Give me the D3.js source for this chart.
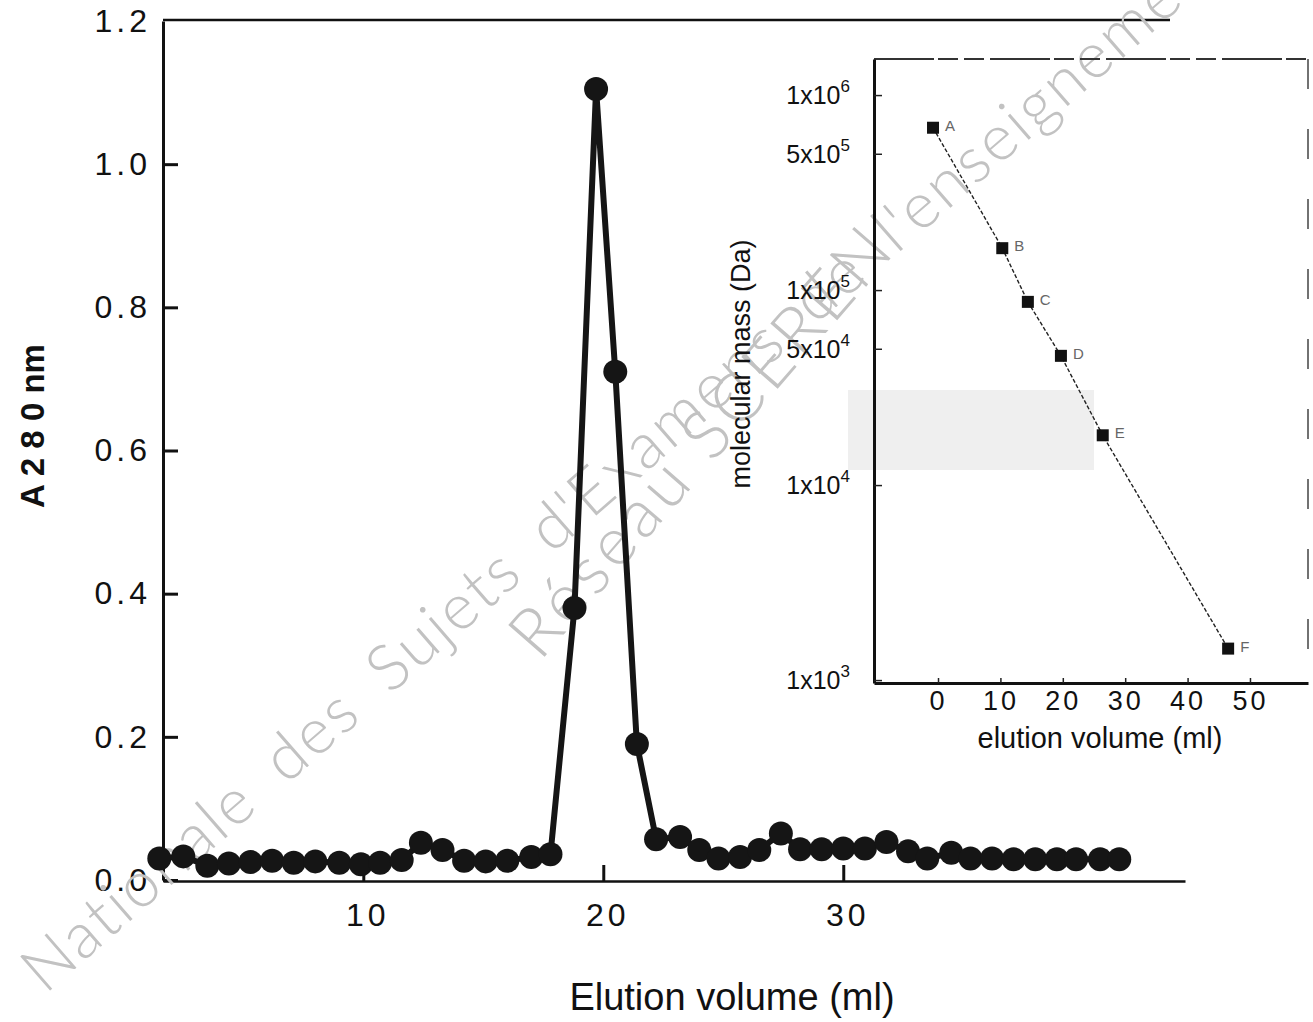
<!DOCTYPE html>
<html>
<head>
<meta charset="utf-8">
<script src="https://cdn.jsdelivr.net/npm/d3@7"></script>
<style>
  body { margin: 0; background: #fff; }
  svg { display: block; font-family: "Liberation Sans", Arial, sans-serif; }
</style>
</head>
<body>
<svg></svg>
<script>
let width = 1313, height = 1022;

// main elution profile: elution volume (ml) and A280
let elutionVol = [1.5, 2.5, 3.5, 4.4, 5.3, 6.2, 7.1, 8.0, 9.0, 9.9, 10.7, 11.6,
    12.4, 13.3, 14.2, 15.1, 16.0, 17.0, 17.8, 18.8, 19.7, 20.5, 21.4, 22.2,
    23.2, 24.0, 24.8, 25.7, 26.5, 27.4, 28.2, 29.1, 30.0, 30.9, 31.8, 32.7,
    33.5, 34.5, 35.3, 36.2, 37.1, 38.0, 38.9, 39.7, 40.7, 41.5];
let absorbance = [0.030, 0.033, 0.020, 0.023, 0.025, 0.027, 0.024, 0.026, 0.024, 0.022, 0.024, 0.028,
    0.052, 0.042, 0.027, 0.026, 0.027, 0.032, 0.036, 0.380, 1.105, 0.710, 0.190, 0.057,
    0.060, 0.042, 0.030, 0.032, 0.042, 0.065, 0.043, 0.043, 0.044, 0.044, 0.053, 0.040,
    0.030, 0.038, 0.030, 0.030, 0.029, 0.029, 0.029, 0.029, 0.029, 0.029];
let mainYTicks = [0, 0.2, 0.4, 0.6, 0.8, 1.0, 1.2];
let mainXTicks = [10, 20, 30];

// inset: calibration standards
let stdNames = ["A", "B", "C", "D", "E", "F"];
let stdVol = [-0.8, 10.3, 14.4, 19.7, 26.4, 46.5];
let stdMass = [680000, 164000, 87000, 46000, 18000, 1450];
let insetYTicks = [1e3, 1e4, 5e4, 1e5, 5e5, 1e6];
let insetXTicks = [0, 10, 20, 30, 40, 50];

let svg = d3.select("svg")
    .attr("width", width)
    .attr("height", height)
    .attr("viewBox", "0 0 " + width + " " + height);

let gAxes = svg.append("g");
let gInsetBg = svg.append("g");
let gMark = svg.append("g");
let gMain = svg.append("g");
let gInset = svg.append("g");

// ---- main chart scales
let x = d3.scaleLinear().domain([1.654, 44.24]).range([163, 1185]);
let y = d3.scaleLinear().domain([0, 1.2]).range([880, 21]);

// top border
gAxes.append("line")
    .attr("x1", 163).attr("x2", 1170).attr("y1", 20).attr("y2", 20)
    .attr("stroke", "#111").attr("stroke-width", 2.5);

let yAxis = gAxes.append("g")
    .attr("transform", "translate(163,0)")
    .call(d3.axisLeft(y).tickValues(mainYTicks).tickSizeInner(-15).tickSizeOuter(0)
        .tickPadding(12).tickFormat(d3.format(".1f")));

let xAxis = gAxes.append("g")
    .attr("transform", "translate(0,881)")
    .call(d3.axisBottom(x).tickValues(mainXTicks).tickSizeInner(-16).tickSizeOuter(0)
        .tickPadding(22).tickFormat(d3.format("d")));

yAxis.select(".domain").attr("stroke", "#111").attr("stroke-width", 3);
xAxis.select(".domain").attr("stroke", "#111").attr("stroke-width", 2.5);
gAxes.selectAll(".tick line").attr("stroke", "#111").attr("stroke-width", 3);
gAxes.selectAll(".tick text")
    .attr("font-size", 32)
    .attr("letter-spacing", 4)
    .attr("fill", "#111")
    .attr("font-family", "Liberation Sans, Arial, sans-serif");
xAxis.selectAll(".tick text").attr("dx", 4);
yAxis.selectAll(".tick").filter(d => d === 1.2).select("line").remove();

gAxes.append("text")
    .attr("x", 732).attr("y", 1010)
    .attr("text-anchor", "middle")
    .attr("font-size", 38)
    .attr("fill", "#111")
    .text("Elution volume (ml)");

gAxes.append("text")
    .attr("transform", "translate(44,426) rotate(-90)")
    .attr("text-anchor", "middle")
    .attr("font-size", 33)
    .attr("font-weight", "bold")
    .attr("fill", "#111")
    .text("A 2 8 0 nm");

// ---- inset scales
let xi = d3.scaleLinear().domain([-10.26, 59.3]).range([874, 1308]);
let yi = d3.scaleLog().domain([Math.pow(10, 2.985), Math.pow(10, 6.185)]).range([683, 59]);

gInsetBg.append("rect")
    .attr("x", 874).attr("y", 59).attr("width", 436).attr("height", 624)
    .attr("fill", "#fff");
// grey scan band
gInsetBg.append("rect")
    .attr("x", 848).attr("y", 390).attr("width", 246).attr("height", 80)
    .attr("fill", "#efefef");

// ---- watermark
gMark.append("text")
    .attr("transform", "translate(45,995) rotate(-41)")
    .attr("font-family", "Lato, 'Noto Sans', sans-serif")
    .attr("font-weight", 300)
    .attr("font-size", 64)
    .attr("letter-spacing", 2.5)
    .attr("word-spacing", 14)
    .attr("fill", "#c2c2c2")
    .text("Nationale des Sujets d'Examens de l'enseignement professionnel");
gMark.append("text")
    .attr("transform", "translate(540,662) rotate(-49)")
    .attr("font-family", "Lato, 'Noto Sans', sans-serif")
    .attr("font-weight", 300)
    .attr("font-size", 68)
    .attr("letter-spacing", 5)
    .attr("fill", "#c2c2c2")
    .text("Réseau SCEREN");

// ---- main data
let pts = elutionVol.map((v, i) => [v, absorbance[i]]);
gMain.append("path")
    .datum(pts)
    .attr("fill", "none")
    .attr("stroke", "#151515")
    .attr("stroke-width", 6)
    .attr("stroke-linejoin", "round")
    .attr("d", d3.line().x(d => x(d[0])).y(d => y(d[1])));
gMain.selectAll("circle")
    .data(pts)
    .enter()
    .append("circle")
    .attr("cx", d => x(d[0]))
    .attr("cy", d => y(d[1]))
    .attr("r", 12)
    .attr("fill", "#151515");

// ---- inset frame and axes
gInset.append("line")
    .attr("x1", 874).attr("x2", 1308).attr("y1", 59).attr("y2", 59)
    .attr("stroke", "#333").attr("stroke-width", 2)
    .attr("stroke-dasharray", "60,4,20,6,20,6");
gInset.append("line")
    .attr("x1", 1308).attr("x2", 1308).attr("y1", 59).attr("y2", 683)
    .attr("stroke", "#444").attr("stroke-width", 1.5)
    .attr("stroke-dasharray", "30,40");

let yiAxis = gInset.append("g")
    .attr("transform", "translate(874,0)")
    .call(d3.axisLeft(yi).tickValues(insetYTicks).tickSizeInner(-8).tickSizeOuter(0).tickFormat(""));
let xiAxis = gInset.append("g")
    .attr("transform", "translate(0,683)")
    .call(d3.axisBottom(xi).tickValues(insetXTicks).tickSizeInner(-5).tickSizeOuter(0)
        .tickPadding(8).tickFormat(d3.format("d")));
yiAxis.select(".domain").attr("stroke", "#111").attr("stroke-width", 3);
xiAxis.select(".domain").attr("stroke", "#111").attr("stroke-width", 3);
gInset.selectAll(".tick line").attr("stroke", "#222").attr("stroke-width", 1.5);
xiAxis.selectAll(".tick text")
    .attr("font-size", 27)
    .attr("letter-spacing", 3)
    .attr("fill", "#111");

// log tick labels like 5x10^4
let lab = gInset.selectAll(".ylab")
    .data(insetYTicks)
    .enter()
    .append("text")
    .attr("class", "ylab")
    .attr("x", 850)
    .attr("y", d => yi(d) + 9)
    .attr("text-anchor", "end")
    .attr("font-size", 25)
    .attr("fill", "#111");
lab.append("tspan")
    .text(d => {
        let e = Math.floor(Math.log10(d) + 1e-9);
        return Math.round(d / Math.pow(10, e)) + "x10";
    });
lab.append("tspan")
    .attr("dy", -12)
    .attr("font-size", 17)
    .text(d => Math.floor(Math.log10(d) + 1e-9));

gInset.append("text")
    .attr("x", 1100).attr("y", 748)
    .attr("text-anchor", "middle")
    .attr("font-size", 29)
    .attr("fill", "#111")
    .text("elution volume (ml)");

gInset.append("text")
    .attr("transform", "translate(750,364) rotate(-90)")
    .attr("text-anchor", "middle")
    .attr("font-size", 27)
    .attr("fill", "#111")
    .text("molecular mass (Da)");

// calibration line + standards
let stds = stdVol.map((v, i) => [v, stdMass[i], stdNames[i]]);
gInset.append("path")
    .datum(stds)
    .attr("fill", "none")
    .attr("stroke", "#222")
    .attr("stroke-width", 1.4)
    .attr("stroke-dasharray", "4,2")
    .attr("d", d3.line().x(d => xi(d[0])).y(d => yi(d[1])));
gInset.selectAll(".std")
    .data(stds)
    .enter()
    .append("rect")
    .attr("class", "std")
    .attr("x", d => xi(d[0]) - 6)
    .attr("y", d => yi(d[1]) - 6)
    .attr("width", 12)
    .attr("height", 12)
    .attr("fill", "#111");
gInset.selectAll(".stdlab")
    .data(stds)
    .enter()
    .append("text")
    .attr("class", "stdlab")
    .attr("x", d => xi(d[0]) + 12)
    .attr("y", d => yi(d[1]) + 3)
    .attr("font-size", 15)
    .attr("fill", "#666")
    .text(d => d[2]);
</script>
</body>
</html>
